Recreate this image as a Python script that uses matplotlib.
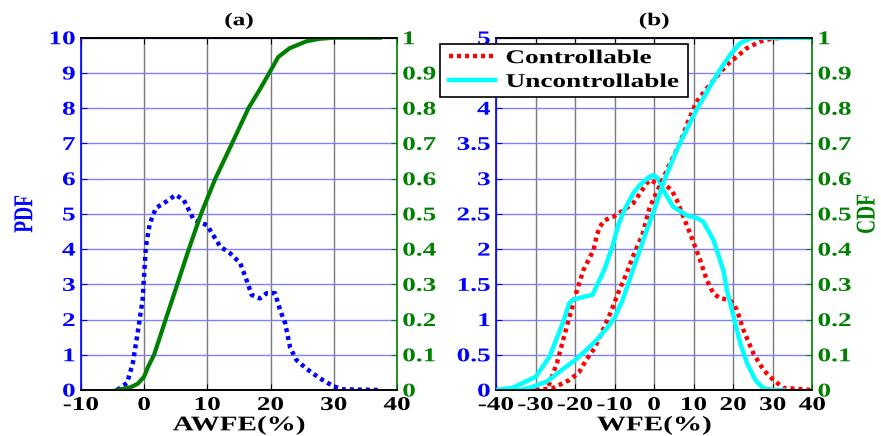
import matplotlib
matplotlib.use("Agg")
import matplotlib.pyplot as plt
from matplotlib.patheffects import AbstractPathEffect
from matplotlib.transforms import Affine2D
from matplotlib.patches import Rectangle

plt.rcParams['font.family'] = ['Liberation Serif', 'DejaVu Serif']
plt.rcParams['font.weight'] = 'bold'

# ---- (a) absolute wind forecast error ----
awfe_pdf_x = [-4.3, -2.7, -1.8, -1.04, -0.25, 0.27, 0.9, 1.84, 3.5, 5.0, 6.28, 7.85, 9.95,
              12.04, 13.6, 15.2, 16.2, 17.0, 18.3, 19.4, 20.7, 21.5, 22.3, 23.1, 24.1,
              25.7, 27.8, 30.0, 31.5, 37.3]
awfe_pdf_y = [0.0, 0.2, 0.76, 1.61, 2.56, 4.07, 4.73, 5.16, 5.35, 5.54, 5.39, 4.83, 4.68,
              4.07, 3.88, 3.6, 3.12, 2.7, 2.6, 2.75, 2.75, 2.27, 1.9, 1.2, 0.85,
              0.6, 0.33, 0.1, 0.02, 0.0]
awfe_cdf_x = [-4.3, -2.1, -1.0, 0.0, 0.6, 1.57, 3.4, 5.24, 7.07, 9.0, 11.26, 13.9, 16.5,
              18.2, 19.8, 21.2, 23.0, 25.7, 27.8, 30.0, 37.3]
awfe_cdf_y = [0.0, 0.008, 0.018, 0.038, 0.065, 0.1, 0.2, 0.3, 0.4, 0.5, 0.6, 0.7, 0.8,
              0.85, 0.9, 0.945, 0.97, 0.99, 0.997, 1.0, 1.0]

# ---- (b) wind forecast error ----
ctrl_pdf_x = [-30, -27.1, -24.6, -22.1, -19.5, -17.9, -15.3, -14.5, -13.7, -12.5, -10.3,
              -7.8, -5.3, -1.9, -1.1, 1.5, 3.2, 4.4, 5.7, 7.4, 9.1, 11.6, 13.3, 15.0,
              16.7, 19.2, 20.9, 22.6, 25.1, 27.7, 30.2, 32.7, 40]
ctrl_pdf_y = [0.0, 0.0, 0.38, 0.9, 1.42, 1.7, 1.99, 2.2, 2.32, 2.41, 2.46,
              2.55, 2.65, 2.93, 2.98, 2.91, 2.89, 2.84, 2.70, 2.46, 2.22, 1.85, 1.56, 1.37,
              1.30, 1.28, 1.14, 0.85, 0.52, 0.28, 0.14, 0.03, 0.0]
unc_pdf_x = [-40, -35.8, -29.9, -26.5, -23.1, -21.5, -20.6, -18.0, -15.6, -12.5, -10.5,
             -9.0, -7.5, -5.3, -3.6, -1.1, -0.2, 1.0, 2.3, 4.8, 8.2, 10.8, 12.4, 15.0,
             17.5, 18.4, 20.1, 21.8, 23.5, 25.6, 27.7, 30.2, 32.7]
unc_pdf_y = [0.0, 0.03, 0.19, 0.47, 0.95, 1.23, 1.28, 1.32, 1.35, 1.72, 2.05,
             2.35, 2.56, 2.79, 2.91, 3.03, 3.05, 3.0, 2.84, 2.60, 2.48, 2.44, 2.39, 2.13,
             1.70, 1.42, 1.04, 0.66, 0.38, 0.14, 0.02, 0.0, 0.0]
ctrl_cdf_x = [-30, -25.7, -21.5, -19, -17.2, -15, -13, -11, -8.8, -7, -5.4, -3, -1.1, 1,
              4, 6.5, 8.5, 10.7, 13.3, 15.8, 18.3, 20.9, 23.4, 26.8, 30, 33, 40]
ctrl_cdf_y = [0.0, 0.005, 0.028, 0.05, 0.085, 0.12, 0.17, 0.22, 0.284, 0.33, 0.378, 0.44,
              0.52, 0.57, 0.643, 0.70, 0.76, 0.818, 0.856, 0.889, 0.922, 0.946, 0.97,
              0.989, 0.998, 1.0, 1.0]
unc_cdf_x = [-40, -34, -31, -27, -23, -20, -17, -14.7, -12, -10, -8, -6, -4, -2, 0, 2.3,
             4, 5.7, 6.5, 10.7, 14.1, 16.6, 19.2, 21.7, 24.2, 26, 40]
unc_cdf_y = [0.0, 0.0, 0.008, 0.025, 0.06, 0.085, 0.115, 0.14, 0.175, 0.205, 0.255, 0.32,
             0.385, 0.45, 0.51, 0.587, 0.635, 0.68, 0.70, 0.795, 0.861, 0.908, 0.951,
             0.984, 0.998, 1.0, 1.0]

cdf_ticks = [0, 0.1, 0.2, 0.3, 0.4, 0.5, 0.6, 0.7, 0.8, 0.9, 1]
cdf_labels = ['0', '0.1', '0.2', '0.3', '0.4', '0.5', '0.6', '0.7', '0.8', '0.9', '1']
pdf_a_ticks = list(range(0, 11))
pdf_a_labels = [str(v) for v in pdf_a_ticks]
pdf_b_ticks = [0, 0.5, 1, 1.5, 2, 2.5, 3, 3.5, 4, 4.5, 5]
pdf_b_labels = ['0', '0.5', '1', '1.5', '2', '2.5', '3', '3.5', '4', '4.5', '5']
awfe_xticks = [-10, 0, 10, 20, 30, 40]
wfe_xticks = [-40, -30, -20, -10, 0, 10, 20, 30, 40]

BLUE = (0, 0, 1)
GREEN = (0, 0.5, 0)
TICK_FS = 14
DOT = (0, (0.9, 0.9))
SX = 1.4  # wide lettering


class Widen(AbstractPathEffect):
    """Draw a text path widened horizontally about a chosen anchor."""

    def __init__(self, sx, anchor='center'):
        super().__init__()
        self.sx = sx
        self.anchor = anchor

    def draw_path(self, renderer, gc, tpath, affine, rgbFace=None):
        ext = tpath.get_extents(affine)
        if self.anchor == 'left':
            cx = ext.x0
        elif self.anchor == 'right':
            cx = ext.x1
        else:
            cx = 0.5 * (ext.x0 + ext.x1)
        new = affine + Affine2D().translate(-cx, 0).scale(self.sx, 1).translate(cx, 0)
        renderer.draw_path(gc, tpath, new, rgbFace)


def widen(texts, anchor='center'):
    for t in texts:
        t.set_path_effects([Widen(SX, anchor)])


fig = plt.figure(figsize=(8.81, 4.36), dpi=100)


def style_axes(ax, ax2, xlim, xticks, yticks, ylabels):
    ax.set_xlim(*xlim)
    ax.set_xticks(xticks)
    ax.set_xticklabels([str(t) for t in xticks], fontsize=TICK_FS, fontweight='bold')
    ax.set_yticks(yticks)
    ax.set_yticklabels(ylabels, fontsize=TICK_FS, fontweight='bold', color=BLUE)
    ax.tick_params(axis='x', direction='in', top=True, length=4, pad=5)
    ax.tick_params(axis='y', direction='in', length=4, color=BLUE, pad=4)
    ax.spines['left'].set_color(BLUE)
    ax.spines['right'].set_visible(False)
    ax.grid(axis='x', color='#7a7a7a', lw=1.0)
    ax.grid(axis='y', color='#8080ff', lw=1.0)
    ax.set_axisbelow(True)
    ax2.set_ylim(0, 1)
    ax2.set_yticks(cdf_ticks)
    ax2.set_yticklabels(cdf_labels, fontsize=TICK_FS, fontweight='bold', color=GREEN)
    ax2.tick_params(axis='y', direction='in', length=4, color=GREEN, pad=4)
    ax2.spines['right'].set_color(GREEN)
    ax2.spines['left'].set_visible(False)
    for s in ('left', 'right', 'top', 'bottom'):
        ax.spines[s].set_linewidth(1.2)
        ax2.spines[s].set_linewidth(1.2)
    widen(ax.get_xticklabels(), 'center')
    widen(ax.get_yticklabels(), 'right')
    widen(ax2.get_yticklabels(), 'left')


# Panel (a)
ax1 = fig.add_axes([0.0919, 0.1055, 0.3587, 0.808])
ax1b = ax1.twinx()
ax1.plot(awfe_pdf_x, awfe_pdf_y, color=BLUE, lw=3.2, ls=DOT, dash_capstyle='butt')
ax1b.plot(awfe_cdf_x, awfe_cdf_y, color=GREEN, lw=3.0)
ax1.set_ylim(0, 10)
style_axes(ax1, ax1b, (-10, 40), awfe_xticks, pdf_a_ticks, pdf_a_labels)
t1 = ax1.set_title('(a)', fontsize=13, fontweight='bold', pad=9)
x1 = ax1.set_xlabel('AWFE(%)', fontsize=15, fontweight='bold', labelpad=1)
y1 = ax1.set_ylabel('PDF', fontsize=14, fontweight='bold', color=BLUE, labelpad=16)
widen([t1, x1, y1])

# Panel (b)
ax2 = fig.add_axes([0.563, 0.1055, 0.359, 0.808])
ax2b = ax2.twinx()
l1, = ax2.plot(ctrl_pdf_x, ctrl_pdf_y, color='red', lw=3.2, ls=DOT, dash_capstyle='butt',
               label='Controllable')
l2, = ax2.plot(unc_pdf_x, unc_pdf_y, color='cyan', lw=3.2, label='Uncontrollable')
ax2b.plot(ctrl_cdf_x, ctrl_cdf_y, color='red', lw=3.2, ls=DOT, dash_capstyle='butt')
ax2b.plot(unc_cdf_x, unc_cdf_y, color='cyan', lw=3.2)
ax2.set_ylim(0, 5)
style_axes(ax2, ax2b, (-40, 40), wfe_xticks, pdf_b_ticks, pdf_b_labels)
t2 = ax2.set_title('(b)', fontsize=13, fontweight='bold', pad=9)
x2 = ax2.set_xlabel('WFE(%)', fontsize=15, fontweight='bold', labelpad=1)
y2 = ax2b.set_ylabel('CDF', fontsize=14, fontweight='bold', color=GREEN, labelpad=12)
widen([t2, x2, y2])

# Legend box spanning the gap between the panels
W, H = fig.get_size_inches() * fig.dpi
box = Rectangle((440 / W, 1 - 97.5 / H), 248 / W, 53 / H, transform=fig.transFigure,
                facecolor='white', edgecolor='black', lw=1.2, zorder=5)
fig.patches.append(box)
leg = fig.legend(handles=[l1, l2], loc='upper left', bbox_to_anchor=(449 / W, 1 - 49.5 / H),
                 bbox_transform=fig.transFigure, borderaxespad=0, frameon=False,
                 prop={'size': 14, 'weight': 'bold'}, handlelength=2.37, borderpad=0,
                 labelspacing=0.32, handletextpad=0.55)
leg.set_zorder(6)
widen(leg.get_texts(), 'left')

fig.savefig('out.png', dpi=100)
